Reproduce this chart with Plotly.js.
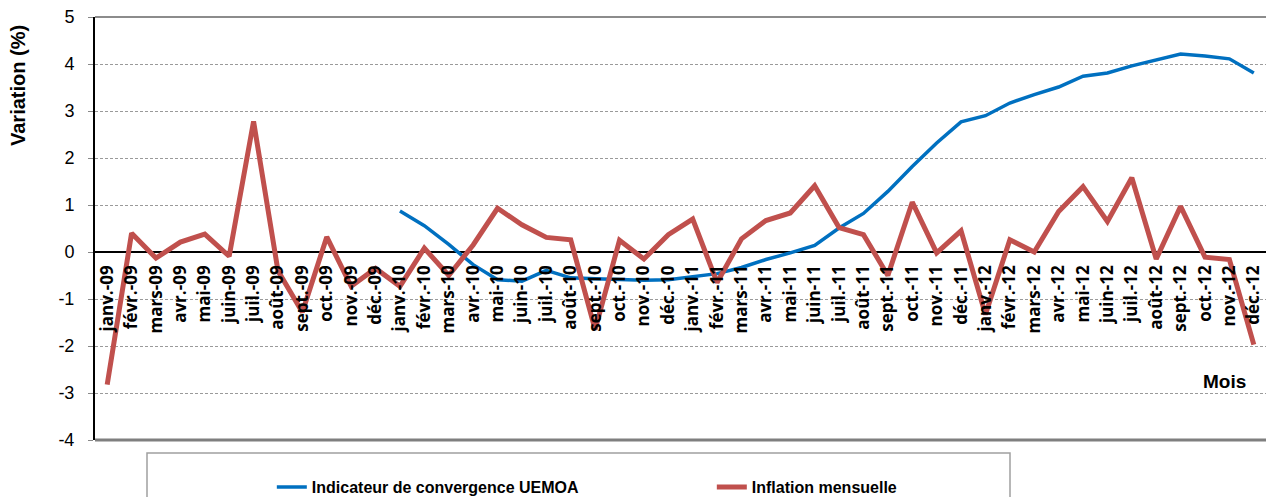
<!DOCTYPE html>
<html>
<head>
<meta charset="utf-8">
<script src="https://cdn.plot.ly/plotly-3.0.1.min.js"></script>
<style>html,body{margin:0;padding:0;background:#fff;}#chart{width:1266px;height:497px;}</style>
</head>
<body>
<div id="chart"></div>
<script>
const months = [
  "janv.-09","févr.-09","mars-09","avr.-09","mai-09","juin-09","juil.-09","août-09","sept.-09","oct.-09","nov.-09","déc.-09",
  "janv.-10","févr.-10","mars-10","avr.-10","mai-10","juin-10","juil.-10","août-10","sept.-10","oct.-10","nov.-10","déc.-10",
  "janv.-11","févr.-11","mars-11","avr.-11","mai-11","juin-11","juil.-11","août-11","sept.-11","oct.-11","nov.-11","déc.-11",
  "janv.-12","févr.-12","mars-12","avr.-12","mai-12","juin-12","juil.-12","août-12","sept.-12","oct.-12","nov.-12","déc.-12"
];
const inflationMensuelle = [
  -2.82, 0.40, -0.13, 0.21, 0.38, -0.09, 2.78, -0.40, -1.28, 0.32, -0.73, -0.35,
  -0.73, 0.08, -0.50, 0.15, 0.93, 0.58, 0.31, 0.26, -1.65, 0.25, -0.15, 0.37,
  0.70, -0.65, 0.28, 0.67, 0.83, 1.41, 0.52, 0.37, -0.50, 1.06, -0.02, 0.45,
  -1.33, 0.26, 0.00, 0.86, 1.39, 0.65, 1.58, -0.15, 0.97, -0.11, -0.16, -1.97
];
const indicateurUEMOA = [
  null, null, null, null, null, null, null, null, null, null, null, null,
  0.87, 0.56, 0.16, -0.27, -0.59, -0.62, -0.39, -0.55, -0.57, -0.59, -0.60, -0.59,
  -0.52, -0.46, -0.33, -0.16, -0.02, 0.14, 0.51, 0.82, 1.29, 1.82, 2.32, 2.77,
  2.90, 3.17, 3.35, 3.51, 3.74, 3.81, 3.96, 4.08, 4.21, 4.17, 4.11, 3.81
];
const yTicks = [-4, -3, -2, -1, 0, 1, 2, 3, 4, 5];

const traces = [
  {x: months, y: indicateurUEMOA, type: 'scatter', mode: 'lines', name: 'Indicateur de convergence UEMOA',
   line: {color: '#0070C0', width: 3.5}, connectgaps: false},
  {x: months, y: inflationMensuelle, type: 'scatter', mode: 'lines', name: 'Inflation mensuelle',
   line: {color: '#C0504D', width: 5}}
];

const zeroPos = (0 - yTicks[0]) / (yTicks[yTicks.length - 1] - yTicks[0]);

const layout = {
  width: 1266, height: 497,
  margin: {l: 95, r: 0, t: 17, b: 57, pad: 0, autoexpand: false},
  paper_bgcolor: '#ffffff', plot_bgcolor: '#ffffff',
  showlegend: true,
  font: {family: 'Liberation Sans, Arial, sans-serif', color: '#000'},
  xaxis: {
    type: 'category', range: [-0.5, 47.5], anchor: 'free', position: zeroPos,
    showline: false, showgrid: false, zeroline: false, ticks: '',
    tickangle: -90, ticklabelstandoff: 9,
    tickfont: {family: 'Open Sans, sans-serif', size: 17, color: '#000', weight: 'bold'},
    automargin: false, fixedrange: true
  },
  xaxis2: {
    overlaying: 'x', anchor: 'free', position: zeroPos, range: [-0.5, 47.5],
    tick0: 1.5, dtick: 2, ticks: 'outside', ticklen: 6, tickcolor: '#888', tickwidth: 1,
    showticklabels: false, showgrid: false, zeroline: false, showline: false
  },
  yaxis: {
    range: [-4, 5], tickvals: yTicks, ticktext: yTicks.map(String),
    showline: true, linecolor: '#000', linewidth: 2,
    showgrid: true, gridcolor: '#9a9a9a', gridwidth: 1, griddash: '3px,2px',
    zeroline: true, zerolinecolor: '#000', zerolinewidth: 1.5,
    ticks: 'outside', ticklen: 5, tickcolor: '#888',
    ticklabelstandoff: 10,
    tickfont: {family: 'Liberation Sans, Arial, sans-serif', size: 18, color: '#000'},
    automargin: false, fixedrange: true
  },
  legend: {
    orientation: 'h', x: 0.151, xanchor: 'left', y: -0.071, yanchor: 'top',
    entrywidth: 395, entrywidthmode: 'pixels',
    font: {family: 'Liberation Sans, Arial, sans-serif', size: 16, color: '#000', weight: 'bold'},
    bgcolor: 'rgba(0,0,0,0)', borderwidth: 0
  },
  shapes: [
    {type: 'line', xref: 'paper', yref: 'paper', x0: 0, x1: 1, y0: 1, y1: 1, line: {color: '#8c8c8c', width: 2}},
    {type: 'line', xref: 'paper', yref: 'paper', x0: 0, x1: 1, y0: 0, y1: 0, line: {color: '#7f7f7f', width: 3}},
    {type: 'rect', xref: 'paper', yref: 'paper', x0: (147 - 95) / 1171, x1: (1010 - 95) / 1171,
     y0: -0.16, y1: -13 / 423, line: {color: '#a0a0a0', width: 1.5}, fillcolor: 'rgba(0,0,0,0)'}
  ],
  annotations: [
    {text: 'Variation (%)', xref: 'paper', yref: 'paper', x: (18 - 95) / 1171, y: (440 - 85) / 423,
     xanchor: 'center', yanchor: 'middle', textangle: -90, showarrow: false,
     font: {family: 'Liberation Sans, Arial, sans-serif', size: 20, color: '#000', weight: 'bold'}},
    {text: 'Mois', xref: 'paper', yref: 'paper', x: (1224 - 95) / 1171, y: (440 - 381) / 423,
     xanchor: 'center', yanchor: 'middle', showarrow: false,
     font: {family: 'Liberation Sans, Arial, sans-serif', size: 19, color: '#000', weight: 'bold'}}
  ]
};

Plotly.newPlot('chart', traces, layout, {displayModeBar: false, staticPlot: true});
</script>
</body>
</html>
